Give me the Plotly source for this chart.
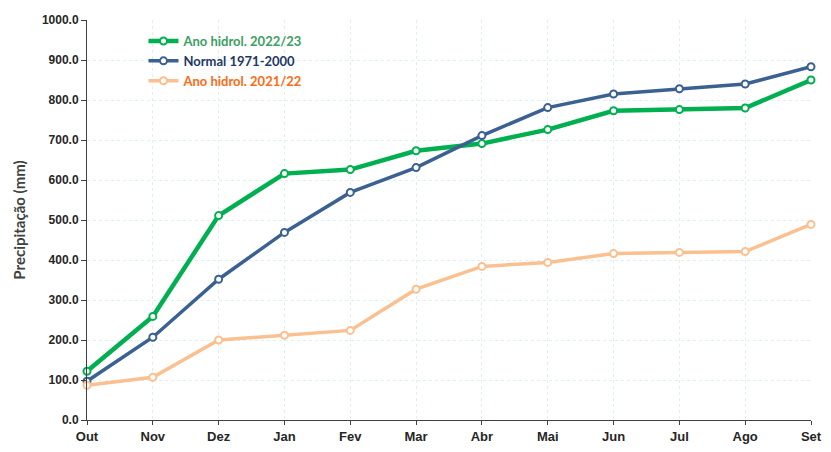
import plotly.graph_objects as go

months = ["Out", "Nov", "Dez", "Jan", "Fev", "Mar", "Abr", "Mai", "Jun", "Jul", "Ago", "Set"]
ano_2022_23 = [122, 259, 511, 616, 626, 673, 691, 726, 773, 776, 780, 850]
normal_1971_2000 = [97, 207, 352, 469, 569, 631, 711, 781, 815, 828, 840, 883]
ano_2021_22 = [87, 107, 200, 212, 224, 327, 384, 394, 416, 419, 421, 489]

series = [
    ("Ano hidrol. 2022/23", ano_2022_23, "#00b050", "#3c9e62", 4.5),
    ("Normal 1971-2000", normal_1971_2000, "#3a6191", "#1f3864", 3.5),
    ("Ano hidrol. 2021/22", ano_2021_22, "#fac090", "#ff6a13", 3.5),
]

fig = go.Figure()
for name, vals, col, tcol, w in series:
    fig.add_trace(go.Scatter(
        x=list(range(len(months))), y=vals, mode="lines+markers",
        name=f"<span style='color:{tcol}'><b>{name}</b></span>",
        line=dict(color=col, width=w),
        marker=dict(symbol="circle", size=7, color="white", line=dict(color=col, width=2)),
        cliponaxis=False,
    ))

fig.update_layout(
    width=815, height=436,
    margin=dict(l=79, r=12, t=12, b=24),
    plot_bgcolor="white", paper_bgcolor="white",
    showlegend=True,
    legend=dict(x=0.078, y=0.985, xanchor="left", yanchor="top",
                bgcolor="rgba(0,0,0,0)", font=dict(family="Lato, Liberation Sans", size=13),
                tracegroupgap=0, itemwidth=30),
    xaxis=dict(
        tickmode="array", tickvals=list(range(len(months))), ticktext=[f"<b>{m}</b>" for m in months],
        range=[0, 11], showline=True, linecolor="#404040", linewidth=1,
        ticks="outside", ticklen=4, tickcolor="#404040",
        showgrid=True, gridcolor="#dff0f5", griddash="dot", gridwidth=1,
        tickfont=dict(family="Liberation Sans", size=13, color="#262626"),
        zeroline=False, automargin=False,
    ),
    yaxis=dict(
        range=[0, 1000], dtick=100, tickformat=".1f",
        showline=True, linecolor="#404040", linewidth=1,
        ticks="outside", ticklen=5, tickcolor="#404040",
        showgrid=True, gridcolor="#dff0f5", griddash="dot", gridwidth=1,
        tickfont=dict(family="Liberation Sans", size=12, color="#262626", weight="bold"),
        title=dict(text="<b>Precipitação (mm)</b>", font=dict(family="Lato, Liberation Sans", size=15, color="#404040"), standoff=12),
        zeroline=False, automargin=False,
    ),
)

fig.write_html("out.html")
